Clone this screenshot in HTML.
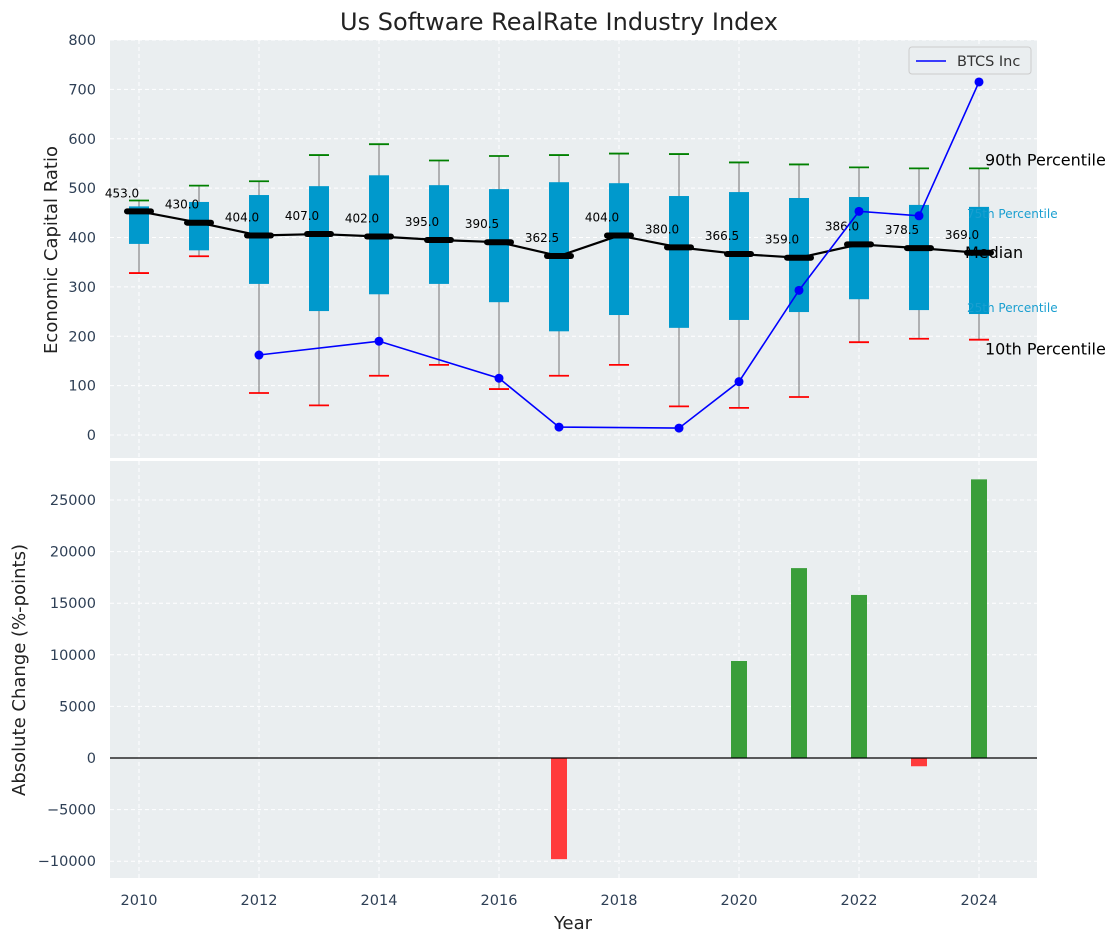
<!DOCTYPE html>
<html><head><meta charset="utf-8"><style>
body{margin:0;background:#fff;}
svg text{font-family:"DejaVu Sans","Liberation Sans",sans-serif;}
</style></head><body>
<svg id="chart" width="1120" height="942" xmlns="http://www.w3.org/2000/svg"></svg>
<script>
const years=[2010,2011,2012,2013,2014,2015,2016,2017,2018,2019,2020,2021,2022,2023,2024];
const p90=[475,505,514,567,589,556,565,567,570,569,552,548,542,540,540];
const p75=[463,472,486,504,526,506,498,512,510,484,492,480,482,466,462];
const median=[453,430,404,407,402,395,390.5,362.5,404,380,366.5,359,386,378.5,369];
const p25=[387,374,306,251,285,306,269,210,243,217,233,249,275,253,245];
const p10=[328,362,85,60,120,142,93,120,142,58,55,77,188,195,193];
const btcsYears=[2012,2014,2016,2017,2019,2020,2021,2022,2023,2024];
const btcs=[162,190,115,16,14,108,293,453,444,715];
const changeYears=[2017,2020,2021,2022,2023,2024];
const changes=[-9800,9400,18400,15800,-800,27000];
const topTicks=[0,100,200,300,400,500,600,700,800];
const botTicks=[-10000,-5000,0,5000,10000,15000,20000,25000];
const xTicks=[2010,2012,2014,2016,2018,2020,2022,2024];

const NS="http://www.w3.org/2000/svg";
const svg=document.getElementById('chart');
function el(tag,attrs,parent){const e=document.createElementNS(NS,tag);for(const k in attrs)e.setAttribute(k,attrs[k]);(parent||svg).appendChild(e);return e;}
const L=110,R=1037;
const x=v=>139+(v-2010)*60;
const yT=v=>435-v*0.49375;
const yB=v=>758-v*0.01032;

let p=el('rect',{x:L,y:40,width:R-L,height:418,fill:'#eaeef0'});

p=el('rect',{x:L,y:461,width:R-L,height:417,fill:'#eaeef0'});


for(const t of topTicks){let g=el('line',{x1:L,x2:R,y1:yT(t),y2:yT(t),stroke:'#fff','stroke-dasharray':'4,3','stroke-width':1});

let tx=el('text',{x:96,y:yT(t)+5,'text-anchor':'end','font-size':14.5,fill:'#2e3f55'});tx.textContent=t;
}
for(const t of botTicks){let g=el('line',{x1:L,x2:R,y1:yB(t),y2:yB(t),stroke:'#fff','stroke-dasharray':'4,3','stroke-width':1});

let tx=el('text',{x:96,y:yB(t)+5,'text-anchor':'end','font-size':14.5,fill:'#2e3f55'});tx.textContent=t<0?'\u2212'+(-t):t;
}
for(const t of xTicks){for(const [a,b] of [[40,458],[461,878]]){let g=el('line',{x1:x(t),x2:x(t),y1:a,y2:b,stroke:'#fff','stroke-dasharray':'4,3','stroke-width':1});
}
let tx=el('text',{x:x(t),y:905,'text-anchor':'middle','font-size':14.5,fill:'#2e3f55'});tx.textContent=t;
}

years.forEach((yr,i)=>{
  let w=el('line',{x1:x(yr),x2:x(yr),y1:yT(p10[i]),y2:yT(p90[i]),stroke:'#888','stroke-width':1.2});
  
  let b=el('rect',{x:x(yr)-10,y:yT(p75[i]),width:20,height:yT(p25[i])-yT(p75[i]),fill:'#0099cc'});
  
  let c1=el('line',{x1:x(yr)-10,x2:x(yr)+10,y1:yT(p90[i]),y2:yT(p90[i]),stroke:'green','stroke-width':1.8});
  
  let c2=el('line',{x1:x(yr)-10,x2:x(yr)+10,y1:yT(p10[i]),y2:yT(p10[i]),stroke:'red','stroke-width':1.8});
  
});
let mp=el('polyline',{points:years.map((yr,i)=>x(yr)+','+yT(median[i])).join(' '),fill:'none',stroke:'#000','stroke-width':2.2});

years.forEach((yr,i)=>{
  let m=el('line',{x1:x(yr)-12,x2:x(yr)+12,y1:yT(median[i]),y2:yT(median[i]),stroke:'#000','stroke-width':6,'stroke-linecap':'round'});
  
  let t=el('text',{x:x(yr)-17,y:yT(median[i])-14,'text-anchor':'middle','font-size':12,fill:'#000'});t.textContent=median[i].toFixed(1);
  
});
let bl=el('polyline',{points:btcsYears.map((yr,i)=>x(yr)+','+yT(btcs[i])).join(' '),fill:'none',stroke:'#0000ff','stroke-width':1.6});

btcsYears.forEach((yr,i)=>{let c=el('circle',{cx:x(yr),cy:yT(btcs[i]),r:4.5,fill:'#0000ff'});
});

const li=years.length-1;
[[ '90th Percentile',985,yT(p90[li])-3,16,'#000'],['75th Percentile',967,yT(p75[li])+11,12,'#1a9fd0'],['Median',965,yT(median[li])+5,16,'#000'],['25th Percentile',967,yT(p25[li])-2,12,'#1a9fd0'],['10th Percentile',985,yT(p10[li])+15,16,'#000']].forEach(a=>{
  let t=el('text',{x:a[1],y:a[2],'font-size':a[3],fill:a[4]});t.textContent=a[0];
  });

let lg=el('g',{});
el('rect',{x:909,y:47,width:122,height:27,rx:3,fill:'#eaeef0',stroke:'#ccc'},lg);
el('line',{x1:916,x2:946,y1:61,y2:61,stroke:'#0000ff','stroke-width':1.6},lg);
let lt=el('text',{x:957,y:66,'font-size':14.5,fill:'#333'},lg);lt.textContent='BTCS Inc';

changeYears.forEach((yr,i)=>{const v=changes[i];
  let b=el('rect',{x:x(yr)-8,y:Math.min(yB(v),yB(0)),width:16,height:Math.abs(yB(v)-yB(0)),fill:v>=0?'#3a9e3a':'#ff3b3b'});
  });
let zl=el('line',{x1:L,x2:R,y1:yB(0),y2:yB(0),stroke:'#000','stroke-width':1.2});


let t=el('text',{x:559,y:30,'text-anchor':'middle','font-size':24,fill:'#222'});t.textContent='Us Software RealRate Industry Index';

t=el('text',{x:573,y:929,'text-anchor':'middle','font-size':18,fill:'#222'});t.textContent='Year';

t=el('text',{x:0,y:0,'text-anchor':'middle','font-size':18,fill:'#222',transform:'translate(57,250) rotate(-90)'});t.textContent='Economic Capital Ratio';

t=el('text',{x:0,y:0,'text-anchor':'middle','font-size':18,fill:'#222',transform:'translate(25,670) rotate(-90)'});t.textContent='Absolute Change (%-points)';

</script>
</body></html>
